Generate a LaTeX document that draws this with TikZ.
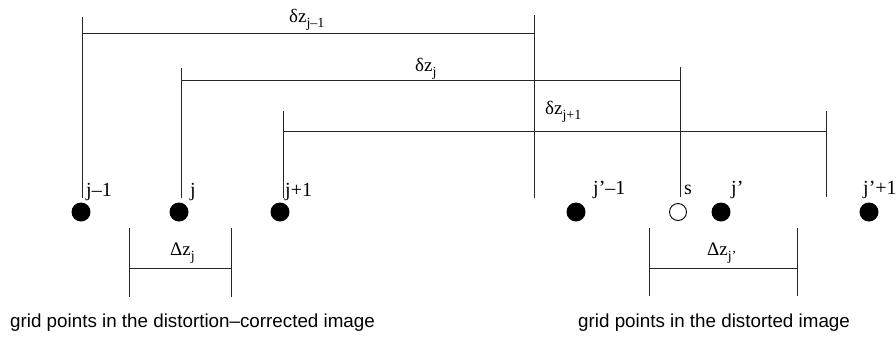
\documentclass[tikz,border=0pt]{standalone}
\usepackage{fontspec}
\setmainfont{Liberation Serif}
\newfontfamily\capfont{Liberation Sans}
% lowered index for the spacing labels
\newcommand{\lowidx}[1]{\raisebox{-0.30em}{\fontsize{14}{14}\selectfont #1}}
\begin{document}
\begin{tikzpicture}[x=1pt,y=-1pt,
  dimline/.style={line width=0.9pt, draw=black!85},
  gridpt/.style={circle, fill=black, minimum size=19pt, inner sep=0pt},
  samplept/.style={circle, draw=black, fill=white, line width=0.9pt, minimum size=17pt, inner sep=0pt},
  lbl/.style={font=\fontsize{19}{19}\selectfont, inner sep=0pt, anchor=base west},
  idx/.style={font=\fontsize{20}{20}\selectfont, inner sep=0pt, anchor=base west},
  captext/.style={font=\capfont\fontsize{18.8}{20}\selectfont, inner sep=0pt, anchor=base west}]
\useasboundingbox (0,0) rectangle (896,341);

% end points of the spacing brackets
\coordinate (a1) at (82,17);   \coordinate (a2) at (82,198);
\coordinate (b1) at (534,15);  \coordinate (b2) at (534,198);
\coordinate (c1) at (181,68);  \coordinate (c2) at (181,198);
\coordinate (d1) at (680,67);  \coordinate (d2) at (680,197);
\coordinate (e1) at (283,111); \coordinate (e2) at (283,198);
\coordinate (f1) at (826,111); \coordinate (f2) at (826,197);

% delta z brackets
\draw[dimline] (a1) -- (a2);
\draw[dimline] (b1) -- (b2);
\draw[dimline] (82,33) -- (534,33);
\draw[dimline] (c1) -- (c2);
\draw[dimline] (d1) -- (d2);
\draw[dimline] (181,80) -- (680,80);
\draw[dimline] (e1) -- (e2);
\draw[dimline] (f1) -- (f2);
\draw[dimline] (283,131) -- (826,131);

\node[lbl] (lz1) at (289,22) {δz\lowidx{j–1}};
\node[lbl] (lz2) at (415,71) {δz\lowidx{j}};
\node[lbl] (lz3) at (545,114) {δz\lowidx{j+1}};

% grid points
\node[gridpt] (p1) at (81,212) {};
\node[gridpt] (p2) at (179,212) {};
\node[gridpt] (p3) at (280,212) {};
\node[gridpt] (q1) at (576,212) {};
\node[samplept] (s) at (678,212) {};
\node[gridpt] (q2) at (721,212) {};
\node[gridpt] (q3) at (869,212) {};

\node[idx] (t1) at (86,196) {j–1};
\node[idx] (t2) at (190,196) {j};
\node[idx] (t3) at (285,196) {j+1};
\node[idx] (u1) at (593,194) {j’–1};
\node[idx] (u0) at (684,194) {s};
\node[idx] (u2) at (731,194) {j’};
\node[idx] (u3) at (863,194) {j’+1};

% Delta z brackets
\coordinate (g1) at (129,228); \coordinate (g2) at (129,297);
\coordinate (h1) at (231,228); \coordinate (h2) at (231,297);
\draw[dimline] (g1) -- (g2);
\draw[dimline] (h1) -- (h2);
\draw[dimline] (129,268) -- (231,268);
\node[lbl] (dz1) at (170,255) {Δz\lowidx{j}};

\coordinate (k1) at (649,228); \coordinate (k2) at (649,296);
\coordinate (m1) at (797,228); \coordinate (m2) at (797,296);
\draw[dimline] (k1) -- (k2);
\draw[dimline] (m1) -- (m2);
\draw[dimline] (649,268) -- (797,268);
\node[lbl] (dz2) at (707,255) {Δz\lowidx{j’}};

% captions
\node[captext] (c1t) at (10,327) {grid points in the distortion–corrected image};
\node[captext] (c2t) at (578,327) {grid points in the distorted image};
\end{tikzpicture}
\end{document}
